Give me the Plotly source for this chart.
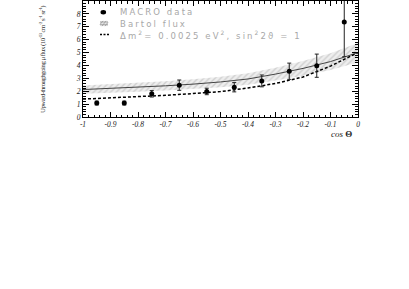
import plotly.graph_objects as go

# ---- data ----
cos_centers = [-0.95, -0.85, -0.75, -0.65, -0.55, -0.45, -0.35, -0.25, -0.15, -0.05]
macro_flux = [1.08, 1.08, 1.80, 2.47, 1.98, 2.31, 2.80, 3.55, 3.98, 7.38]
macro_err_up = [0.15, 0.15, 0.25, 0.40, 0.25, 0.36, 0.46, 0.63, 0.90, 3.00]
macro_err_dn = [0.15, 0.15, 0.25, 0.40, 0.25, 0.36, 0.46, 0.63, 0.90, 2.70]

curve_cos = [-1.0, -0.9, -0.8, -0.7, -0.6, -0.5, -0.4, -0.3, -0.2, -0.1, 0.0]
bartol_flux = [2.13, 2.22, 2.31, 2.42, 2.55, 2.72, 2.95, 3.33, 3.77, 4.30, 5.00]
bartol_rel_unc = 0.15
osc_flux = [1.39, 1.47, 1.56, 1.68, 1.82, 1.97, 2.25, 2.60, 3.10, 3.95, 5.00]

x_ticks = [-1, -0.9, -0.8, -0.7, -0.6, -0.5, -0.4, -0.3, -0.2, -0.1, 0]
x_tick_text = ["-1", "-0.9", "-0.8", "-0.7", "-0.6", "-0.5", "-0.4", "-0.3", "-0.2", "-0.1", "0"]
y_ticks = [0, 1, 2, 3, 4, 5, 6, 7, 8, 9]

legend_labels = ["MACRO data", "Bartol flux", "Δm<sup>2</sup>= 0.0025 eV<sup>2</sup>, sin<sup>2</sup>2ϑ = 1"]

band_hi = [v * (1 + bartol_rel_unc) for v in bartol_flux]
band_lo = [v * (1 - bartol_rel_unc) for v in bartol_flux]

fig = go.Figure()

# hatched band
fig.add_trace(go.Scatter(
    x=curve_cos + curve_cos[::-1],
    y=band_hi + band_lo[::-1],
    fill="toself",
    fillcolor="rgba(235,235,235,1)",
    fillpattern=dict(shape="/", fgcolor="#b0b0b0", bgcolor="#eeeeee", size=4, solidity=0.35),
    line=dict(width=0),
    hoverinfo="skip",
    showlegend=False,
))
# Bartol central line
fig.add_trace(go.Scatter(
    x=curve_cos, y=bartol_flux, mode="lines",
    line=dict(color="#444444", width=1),
    showlegend=False,
))
# oscillation dashed line
fig.add_trace(go.Scatter(
    x=curve_cos, y=osc_flux, mode="lines",
    line=dict(color="black", width=1.5, dash="3px,2px"),
    showlegend=False,
))
# MACRO data
fig.add_trace(go.Scatter(
    x=cos_centers, y=macro_flux, mode="markers",
    marker=dict(color="black", size=5, symbol="circle"),
    error_y=dict(type="data", symmetric=False, array=macro_err_up, arrayminus=macro_err_dn,
                 color="#222222", thickness=1, width=2),
    showlegend=False,
))

W, H = 409, 289
L, R, T, B = 83, 51, 1, 172
pw, ph = W - L - R, H - T - B


def px(xpix):
    return (xpix - L) / pw


def py(ypix):
    return (H - B - ypix) / ph


legend_font = dict(family="DejaVu Sans", size=8.5, color="#a8a8a8")
text_x = px(118)
rows = [12.3, 23.5, 34.5]
annotations = []
for lab, yy in zip(legend_labels, rows):
    annotations.append(dict(
        x=text_x, y=py(yy), xref="paper", yref="paper",
        text='<span style="letter-spacing:2.1px">' + lab + '</span>',
        showarrow=False, xanchor="left", yanchor="middle", font=legend_font))

annotations.append(dict(
    x=px(354), y=py(134), xref="paper", yref="paper",
    text="<i>cos</i> <b>Θ</b>", showarrow=False, xanchor="right", yanchor="middle",
    font=dict(family="Liberation Serif", size=9, color="#222222")))

annotations.append(dict(
    x=px(43), y=py(60), xref="paper", yref="paper", textangle=-90,
    text='<span style="letter-spacing:-0.5px">Upward-throughgoing μ flux (10<sup>-13</sup> cm<sup>-2</sup> s<sup>-1</sup> sr<sup>-1</sup>)</span>',
    showarrow=False, xanchor="center", yanchor="middle",
    font=dict(family="Liberation Serif", size=6.8, color="#333333")))

shapes = [
    # marker
    dict(type="circle", xref="paper", yref="paper", xsizemode="pixel", ysizemode="pixel",
         xanchor=px(103.3), yanchor=py(12.3), x0=-2.8, x1=2.8, y0=-2.2, y1=2.2,
         fillcolor="black", line=dict(width=0)),
    # hatched box
    dict(type="rect", xref="paper", yref="paper", xsizemode="pixel", ysizemode="pixel",
         xanchor=px(104), yanchor=py(23.5), x0=-4, x1=4, y0=-2.6, y1=2.6,
         fillcolor="#e6e6e6", line=dict(width=0)),
    dict(type="path", xref="paper", yref="paper", xsizemode="pixel", ysizemode="pixel",
         xanchor=px(104), yanchor=py(23.5),
         path="M -4 -1 L -1 2.6 M -2 -2.6 L 2 2.6 M 1 -2.6 L 4 1.2 M -4 1.5 L 4 1.5 M -4 -1.2 L 4 -1.2",
         line=dict(color="#9a9a9a", width=0.8)),
    # dashed line
    dict(type="line", xref="paper", yref="paper", x0=px(100), x1=px(109), y0=py(34.4), y1=py(34.4),
         line=dict(color="black", width=1.5, dash="2px,1.5px")),
]

tickfont = dict(family="Liberation Serif", size=7.5, color="#222222", style="italic")

fig.update_layout(
    width=W, height=H,
    margin=dict(l=L, r=R, t=T, b=B, pad=0),
    paper_bgcolor="white", plot_bgcolor="white",
    annotations=annotations, shapes=shapes,
    xaxis=dict(range=[-1, 0], tickvals=x_ticks, ticktext=x_tick_text, ticks="inside",
               ticklen=5, tickcolor="black", showline=True, linecolor="black", linewidth=1,
               mirror="ticks", showgrid=False, zeroline=False, tickfont=tickfont,
               minor=dict(dtick=0.02, ticks="inside", ticklen=2.5, tickcolor="black", showgrid=False)),
    yaxis=dict(range=[0, 9], tickvals=y_ticks, ticks="inside",
               ticklen=6, tickcolor="black", showline=True, linecolor="black", linewidth=1,
               mirror="ticks", showgrid=False, zeroline=False, tickfont=tickfont,
               minor=dict(dtick=0.2, ticks="inside", ticklen=3, tickcolor="black", showgrid=False)),
)

fig.write_html("out.html", config={"displayModeBar": False},
               post_script="document.body.style.margin='0';")
